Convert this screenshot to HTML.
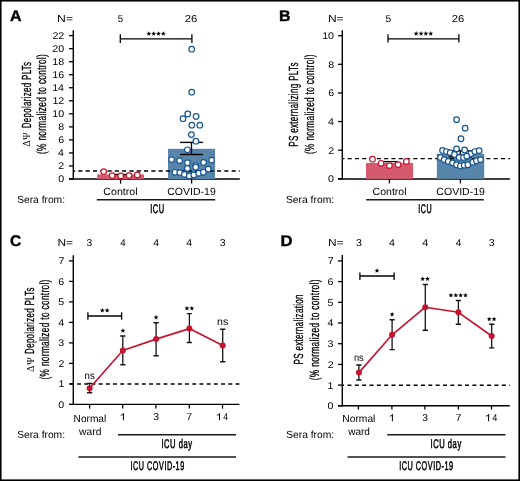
<!DOCTYPE html>
<html><head><meta charset="utf-8"><style>
html,body{margin:0;padding:0;background:#fff;}
svg{display:block;font-family:"Liberation Sans", sans-serif;will-change:transform;text-rendering:geometricPrecision;}
</style></head><body>
<svg width="520" height="481" viewBox="0 0 520 481">
<rect x="0" y="0" width="520" height="481" fill="#fff"/>
<rect x="0.75" y="0.75" width="518.45" height="479.45" fill="none" stroke="#000" stroke-width="1.6"/>
<text transform="translate(9.90,20.90) scale(1.0370,1)" font-size="15.4" font-weight="bold" fill="#000" stroke="#000" stroke-width="0.4">A</text>
<text transform="translate(57.10,21.50) scale(1.1816,1)" font-size="10.3" font-weight="normal" fill="#000">N=</text>
<text transform="translate(117.71,21.50) scale(0.9684,1)" font-size="10.0" font-weight="normal" fill="#000">5</text>
<text transform="translate(184.73,21.60) scale(1.1302,1)" font-size="10.0" font-weight="normal" fill="#000">26</text>
<line x1="73.30" y1="30.20" x2="73.30" y2="179.60" stroke="#000" stroke-width="1.4" />
<line x1="69.00" y1="179.00" x2="73.30" y2="179.00" stroke="#000" stroke-width="1.3" />
<text transform="translate(58.20,182.45) scale(1.0900,1)" font-size="9.75" fill="#000">0</text>
<line x1="69.00" y1="165.96" x2="73.30" y2="165.96" stroke="#000" stroke-width="1.3" />
<text transform="translate(58.33,169.41) scale(1.0900,1)" font-size="9.75" fill="#000">2</text>
<line x1="69.00" y1="152.93" x2="73.30" y2="152.93" stroke="#000" stroke-width="1.3" />
<text transform="translate(58.09,156.38) scale(1.0900,1)" font-size="9.75" fill="#000">4</text>
<line x1="69.00" y1="139.89" x2="73.30" y2="139.89" stroke="#000" stroke-width="1.3" />
<text transform="translate(58.25,143.34) scale(1.0900,1)" font-size="9.75" fill="#000">6</text>
<line x1="69.00" y1="126.86" x2="73.30" y2="126.86" stroke="#000" stroke-width="1.3" />
<text transform="translate(58.25,130.31) scale(1.0900,1)" font-size="9.75" fill="#000">8</text>
<line x1="69.00" y1="113.82" x2="73.30" y2="113.82" stroke="#000" stroke-width="1.3" />
<text transform="translate(52.30,117.27) scale(1.0900,1)" font-size="9.75" fill="#000">10</text>
<line x1="69.00" y1="100.78" x2="73.30" y2="100.78" stroke="#000" stroke-width="1.3" />
<text transform="translate(52.43,104.23) scale(1.0900,1)" font-size="9.75" fill="#000">12</text>
<line x1="69.00" y1="87.75" x2="73.30" y2="87.75" stroke="#000" stroke-width="1.3" />
<text transform="translate(52.20,91.20) scale(1.0900,1)" font-size="9.75" fill="#000">14</text>
<line x1="69.00" y1="74.71" x2="73.30" y2="74.71" stroke="#000" stroke-width="1.3" />
<text transform="translate(52.36,78.16) scale(1.0900,1)" font-size="9.75" fill="#000">16</text>
<line x1="69.00" y1="61.68" x2="73.30" y2="61.68" stroke="#000" stroke-width="1.3" />
<text transform="translate(52.36,65.13) scale(1.0900,1)" font-size="9.75" fill="#000">18</text>
<line x1="69.00" y1="48.64" x2="73.30" y2="48.64" stroke="#000" stroke-width="1.3" />
<text transform="translate(52.30,52.09) scale(1.0900,1)" font-size="9.75" fill="#000">20</text>
<line x1="69.00" y1="35.60" x2="73.30" y2="35.60" stroke="#000" stroke-width="1.3" />
<text transform="translate(52.43,39.05) scale(1.0900,1)" font-size="9.75" fill="#000">22</text>
<line x1="69.00" y1="179.00" x2="239.80" y2="179.00" stroke="#000" stroke-width="1.4" />
<line x1="120.60" y1="179.00" x2="120.60" y2="183.60" stroke="#000" stroke-width="1.3" />
<line x1="191.60" y1="179.00" x2="191.60" y2="183.60" stroke="#000" stroke-width="1.3" />
<rect x="97.1" y="174.4" width="46.9" height="4.60" fill="#d65a6e"/>
<rect x="168" y="148.8" width="47" height="30.20" fill="#5886aa"/>
<line x1="73.30" y1="171.05" x2="239.80" y2="171.05" stroke="#000" stroke-width="1.45" stroke-dasharray="4.15 3.15" stroke-dashoffset="2.3"/>
<line x1="109.00" y1="174.50" x2="132.00" y2="174.50" stroke="#000" stroke-width="1.3" />
<line x1="191.50" y1="142.40" x2="191.50" y2="154.50" stroke="#000" stroke-width="1.3" />
<line x1="180.10" y1="142.40" x2="203.10" y2="142.40" stroke="#000" stroke-width="1.4" />
<line x1="180.10" y1="154.50" x2="203.10" y2="154.50" stroke="#000" stroke-width="1.4" />
<circle cx="103.70" cy="171.60" r="2.8" fill="#fff" stroke="#c4132f" stroke-width="1.2"/>
<circle cx="112.20" cy="175.60" r="2.8" fill="#fff" stroke="#c4132f" stroke-width="1.2"/>
<circle cx="120.70" cy="175.90" r="2.8" fill="#fff" stroke="#c4132f" stroke-width="1.2"/>
<circle cx="129.00" cy="175.60" r="2.8" fill="#fff" stroke="#c4132f" stroke-width="1.2"/>
<circle cx="137.30" cy="174.90" r="2.8" fill="#fff" stroke="#c4132f" stroke-width="1.2"/>
<circle cx="191.70" cy="49.20" r="2.8" fill="#fff" stroke="#17548f" stroke-width="1.2"/>
<circle cx="191.70" cy="92.20" r="2.8" fill="#fff" stroke="#17548f" stroke-width="1.2"/>
<circle cx="187.70" cy="114.00" r="2.8" fill="#fff" stroke="#17548f" stroke-width="1.2"/>
<circle cx="183.00" cy="118.70" r="2.8" fill="#fff" stroke="#17548f" stroke-width="1.2"/>
<circle cx="196.10" cy="116.40" r="2.8" fill="#fff" stroke="#17548f" stroke-width="1.2"/>
<circle cx="191.80" cy="125.20" r="2.8" fill="#fff" stroke="#17548f" stroke-width="1.2"/>
<circle cx="199.80" cy="125.20" r="2.8" fill="#fff" stroke="#17548f" stroke-width="1.2"/>
<circle cx="191.40" cy="134.60" r="2.8" fill="#fff" stroke="#17548f" stroke-width="1.2"/>
<circle cx="195.90" cy="141.20" r="2.8" fill="#fff" stroke="#17548f" stroke-width="1.2"/>
<circle cx="187.40" cy="149.80" r="2.8" fill="#fff" stroke="#17548f" stroke-width="1.2"/>
<circle cx="171.60" cy="159.60" r="2.8" fill="#fff" stroke="#17548f" stroke-width="1.2"/>
<circle cx="179.60" cy="160.60" r="2.8" fill="#fff" stroke="#17548f" stroke-width="1.2"/>
<circle cx="187.40" cy="162.80" r="2.8" fill="#fff" stroke="#17548f" stroke-width="1.2"/>
<circle cx="203.60" cy="162.50" r="2.8" fill="#fff" stroke="#17548f" stroke-width="1.2"/>
<circle cx="211.60" cy="160.10" r="2.8" fill="#fff" stroke="#17548f" stroke-width="1.2"/>
<circle cx="187.40" cy="168.40" r="2.8" fill="#fff" stroke="#17548f" stroke-width="1.2"/>
<circle cx="195.70" cy="165.60" r="2.8" fill="#fff" stroke="#17548f" stroke-width="1.2"/>
<circle cx="195.70" cy="167.30" r="2.8" fill="#fff" stroke="#17548f" stroke-width="1.2"/>
<circle cx="175.00" cy="172.30" r="2.8" fill="#fff" stroke="#17548f" stroke-width="1.2"/>
<circle cx="179.80" cy="172.60" r="2.8" fill="#fff" stroke="#17548f" stroke-width="1.2"/>
<circle cx="184.40" cy="174.40" r="2.8" fill="#fff" stroke="#17548f" stroke-width="1.2"/>
<circle cx="189.30" cy="176.00" r="2.8" fill="#fff" stroke="#17548f" stroke-width="1.2"/>
<circle cx="193.80" cy="174.90" r="2.8" fill="#fff" stroke="#17548f" stroke-width="1.2"/>
<circle cx="198.70" cy="173.30" r="2.8" fill="#fff" stroke="#17548f" stroke-width="1.2"/>
<circle cx="203.40" cy="172.30" r="2.8" fill="#fff" stroke="#17548f" stroke-width="1.2"/>
<circle cx="208.20" cy="169.10" r="2.8" fill="#fff" stroke="#17548f" stroke-width="1.2"/>
<line x1="120.30" y1="38.90" x2="191.90" y2="38.90" stroke="#000" stroke-width="1.3" />
<line x1="120.30" y1="34.20" x2="120.30" y2="43.00" stroke="#000" stroke-width="1.3" />
<line x1="191.90" y1="34.20" x2="191.90" y2="43.00" stroke="#000" stroke-width="1.3" />
<polygon points="148.82,31.15 149.47,32.81 151.25,32.91 149.87,34.04 150.32,35.76 148.82,34.80 147.33,35.76 147.78,34.04 146.40,32.91 148.18,32.81" fill="#000"/>
<polygon points="153.67,31.15 154.32,32.81 156.10,32.91 154.72,34.04 155.17,35.76 153.67,34.80 152.18,35.76 152.63,34.04 151.25,32.91 153.03,32.81" fill="#000"/>
<polygon points="158.52,31.15 159.17,32.81 160.95,32.91 159.57,34.04 160.02,35.76 158.52,34.80 157.03,35.76 157.48,34.04 156.10,32.91 157.88,32.81" fill="#000"/>
<polygon points="163.38,31.15 164.02,32.81 165.80,32.91 164.42,34.04 164.87,35.76 163.38,34.80 161.88,35.76 162.33,34.04 160.95,32.91 162.73,32.81" fill="#000"/>
<text transform="translate(17.14,202.80) scale(0.9960,1)" font-size="10.3" font-weight="normal" fill="#000">Sera from:</text>
<text transform="translate(103.37,195.40) scale(1.0295,1)" font-size="10.3" font-weight="normal" fill="#000">Control</text>
<text transform="translate(167.27,195.40) scale(1.0208,1)" font-size="10.3" font-weight="normal" fill="#000">COVID-19</text>
<line x1="96.80" y1="199.75" x2="215.20" y2="199.75" stroke="#1a1a1a" stroke-width="1.5" />
<text transform="translate(150.23,212.80) scale(0.5969,1)" font-size="12.6" font-weight="normal" fill="#000" stroke="#000" stroke-width="0.55" letter-spacing="0.9">ICU</text>
<text transform="translate(30.40,146.56) rotate(-90) scale(0.9119,1)" font-size="10.6" fill="#000" font-family="Liberation Serif, serif" letter-spacing="0.6">ΔΨ</text>
<text transform="translate(30.50,128.30) rotate(-90) scale(0.6040,1)" font-size="13.2" fill="#000" stroke="#000" stroke-width="0.28" letter-spacing="0.5">Depolarized PLTs</text>
<text transform="translate(46.00,154.01) rotate(-90) scale(0.6292,1)" font-size="13.2" fill="#000" stroke="#000" stroke-width="0.28" letter-spacing="0.5">(% normalized to control)</text>
<text transform="translate(279.03,21.00) scale(1.0326,1)" font-size="15.4" font-weight="bold" fill="#000" stroke="#000" stroke-width="0.4">B</text>
<text transform="translate(327.91,21.50) scale(1.1650,1)" font-size="10.3" font-weight="normal" fill="#000">N=</text>
<text transform="translate(385.39,21.50) scale(1.0316,1)" font-size="10.0" font-weight="normal" fill="#000">5</text>
<text transform="translate(451.84,21.60) scale(1.1204,1)" font-size="10.0" font-weight="normal" fill="#000">26</text>
<line x1="342.30" y1="30.20" x2="342.30" y2="179.40" stroke="#000" stroke-width="1.4" />
<line x1="338.00" y1="178.80" x2="342.30" y2="178.80" stroke="#000" stroke-width="1.3" />
<text transform="translate(328.10,182.25) scale(1.0900,1)" font-size="9.75" fill="#000">0</text>
<line x1="338.00" y1="150.18" x2="342.30" y2="150.18" stroke="#000" stroke-width="1.3" />
<text transform="translate(328.23,153.63) scale(1.0900,1)" font-size="9.75" fill="#000">2</text>
<line x1="338.00" y1="121.56" x2="342.30" y2="121.56" stroke="#000" stroke-width="1.3" />
<text transform="translate(327.99,125.01) scale(1.0900,1)" font-size="9.75" fill="#000">4</text>
<line x1="338.00" y1="92.94" x2="342.30" y2="92.94" stroke="#000" stroke-width="1.3" />
<text transform="translate(328.15,96.39) scale(1.0900,1)" font-size="9.75" fill="#000">6</text>
<line x1="338.00" y1="64.32" x2="342.30" y2="64.32" stroke="#000" stroke-width="1.3" />
<text transform="translate(328.15,67.77) scale(1.0900,1)" font-size="9.75" fill="#000">8</text>
<line x1="338.00" y1="35.70" x2="342.30" y2="35.70" stroke="#000" stroke-width="1.3" />
<text transform="translate(322.20,39.15) scale(1.0900,1)" font-size="9.75" fill="#000">10</text>
<line x1="338.00" y1="179.00" x2="509.90" y2="179.00" stroke="#000" stroke-width="1.5" />
<line x1="389.40" y1="178.80" x2="389.40" y2="183.40" stroke="#000" stroke-width="1.3" />
<line x1="460.40" y1="178.80" x2="460.40" y2="183.40" stroke="#000" stroke-width="1.3" />
<rect x="366" y="163" width="47.1" height="15.80" fill="#d65a6e"/>
<rect x="436.8" y="153.8" width="47.4" height="25.00" fill="#5886aa"/>
<line x1="342.30" y1="158.60" x2="509.90" y2="158.60" stroke="#000" stroke-width="1.45" stroke-dasharray="4.15 3.15" stroke-dashoffset="2.0"/>
<line x1="381.00" y1="161.60" x2="398.00" y2="161.60" stroke="#000" stroke-width="1.3" />
<line x1="460.20" y1="150.80" x2="460.20" y2="156.80" stroke="#000" stroke-width="1.3" />
<line x1="448.70" y1="150.80" x2="471.70" y2="150.80" stroke="#000" stroke-width="1.3" />
<line x1="448.70" y1="156.80" x2="471.70" y2="156.80" stroke="#000" stroke-width="1.3" />
<circle cx="372.50" cy="159.20" r="2.8" fill="#fff" stroke="#c4132f" stroke-width="1.2"/>
<circle cx="381.00" cy="163.30" r="2.8" fill="#fff" stroke="#c4132f" stroke-width="1.2"/>
<circle cx="389.40" cy="165.60" r="2.8" fill="#fff" stroke="#c4132f" stroke-width="1.2"/>
<circle cx="398.10" cy="164.60" r="2.8" fill="#fff" stroke="#c4132f" stroke-width="1.2"/>
<circle cx="406.40" cy="161.50" r="2.8" fill="#fff" stroke="#c4132f" stroke-width="1.2"/>
<circle cx="456.55" cy="119.65" r="2.8" fill="#fff" stroke="#17548f" stroke-width="1.2"/>
<circle cx="465.15" cy="128.15" r="2.8" fill="#fff" stroke="#17548f" stroke-width="1.2"/>
<circle cx="460.95" cy="138.75" r="2.8" fill="#fff" stroke="#17548f" stroke-width="1.2"/>
<circle cx="442.55" cy="150.45" r="2.8" fill="#fff" stroke="#17548f" stroke-width="1.2"/>
<circle cx="446.35" cy="151.55" r="2.8" fill="#fff" stroke="#17548f" stroke-width="1.2"/>
<circle cx="450.15" cy="152.65" r="2.8" fill="#fff" stroke="#17548f" stroke-width="1.2"/>
<circle cx="454.45" cy="154.45" r="2.8" fill="#fff" stroke="#17548f" stroke-width="1.2"/>
<circle cx="456.55" cy="148.85" r="2.8" fill="#fff" stroke="#17548f" stroke-width="1.2"/>
<circle cx="464.65" cy="149.95" r="2.8" fill="#fff" stroke="#17548f" stroke-width="1.2"/>
<circle cx="470.85" cy="153.75" r="2.8" fill="#fff" stroke="#17548f" stroke-width="1.2"/>
<circle cx="474.85" cy="151.55" r="2.8" fill="#fff" stroke="#17548f" stroke-width="1.2"/>
<circle cx="479.15" cy="150.65" r="2.8" fill="#fff" stroke="#17548f" stroke-width="1.2"/>
<circle cx="459.25" cy="157.45" r="2.8" fill="#fff" stroke="#17548f" stroke-width="1.2"/>
<circle cx="463.55" cy="157.45" r="2.8" fill="#fff" stroke="#17548f" stroke-width="1.2"/>
<circle cx="466.75" cy="156.15" r="2.8" fill="#fff" stroke="#17548f" stroke-width="1.2"/>
<circle cx="440.45" cy="157.45" r="2.8" fill="#fff" stroke="#17548f" stroke-width="1.2"/>
<circle cx="444.15" cy="159.65" r="2.8" fill="#fff" stroke="#17548f" stroke-width="1.2"/>
<circle cx="448.25" cy="161.55" r="2.8" fill="#fff" stroke="#17548f" stroke-width="1.2"/>
<circle cx="452.55" cy="162.85" r="2.8" fill="#fff" stroke="#17548f" stroke-width="1.2"/>
<circle cx="456.55" cy="164.75" r="2.8" fill="#fff" stroke="#17548f" stroke-width="1.2"/>
<circle cx="460.35" cy="166.05" r="2.8" fill="#fff" stroke="#17548f" stroke-width="1.2"/>
<circle cx="464.15" cy="165.25" r="2.8" fill="#fff" stroke="#17548f" stroke-width="1.2"/>
<circle cx="467.85" cy="164.75" r="2.8" fill="#fff" stroke="#17548f" stroke-width="1.2"/>
<circle cx="472.75" cy="162.25" r="2.8" fill="#fff" stroke="#17548f" stroke-width="1.2"/>
<circle cx="476.45" cy="160.75" r="2.8" fill="#fff" stroke="#17548f" stroke-width="1.2"/>
<circle cx="480.55" cy="159.65" r="2.8" fill="#fff" stroke="#17548f" stroke-width="1.2"/>
<line x1="388.00" y1="38.90" x2="458.90" y2="38.90" stroke="#000" stroke-width="1.3" />
<line x1="388.00" y1="34.20" x2="388.00" y2="42.60" stroke="#000" stroke-width="1.3" />
<line x1="458.90" y1="34.20" x2="458.90" y2="42.60" stroke="#000" stroke-width="1.3" />
<polygon points="416.18,31.05 416.82,32.71 418.60,32.81 417.22,33.94 417.67,35.66 416.18,34.70 414.68,35.66 415.13,33.94 413.75,32.81 415.53,32.71" fill="#000"/>
<polygon points="421.03,31.05 421.67,32.71 423.45,32.81 422.07,33.94 422.52,35.66 421.03,34.70 419.53,35.66 419.98,33.94 418.60,32.81 420.38,32.71" fill="#000"/>
<polygon points="425.88,31.05 426.52,32.71 428.30,32.81 426.92,33.94 427.37,35.66 425.88,34.70 424.38,35.66 424.83,33.94 423.45,32.81 425.23,32.71" fill="#000"/>
<polygon points="430.73,31.05 431.37,32.71 433.15,32.81 431.77,33.94 432.22,35.66 430.73,34.70 429.23,35.66 429.68,33.94 428.30,32.81 430.08,32.71" fill="#000"/>
<text transform="translate(285.94,202.80) scale(1.0025,1)" font-size="10.3" font-weight="normal" fill="#000">Sera from:</text>
<text transform="translate(372.62,195.40) scale(1.0216,1)" font-size="10.3" font-weight="normal" fill="#000">Control</text>
<text transform="translate(436.37,195.40) scale(1.0230,1)" font-size="10.3" font-weight="normal" fill="#000">COVID-19</text>
<line x1="366.20" y1="199.75" x2="483.80" y2="199.75" stroke="#1a1a1a" stroke-width="1.5" />
<text transform="translate(418.26,212.80) scale(0.5688,1)" font-size="12.6" font-weight="normal" fill="#000" stroke="#000" stroke-width="0.55" letter-spacing="0.9">ICU</text>
<text transform="translate(297.60,146.81) rotate(-90) scale(0.6137,1)" font-size="13.2" fill="#000" stroke="#000" stroke-width="0.28" letter-spacing="0.5">PS externalizing PLTs</text>
<text transform="translate(313.70,153.96) rotate(-90) scale(0.6270,1)" font-size="13.2" fill="#000" stroke="#000" stroke-width="0.28" letter-spacing="0.5">(% normalized to control)</text>
<text transform="translate(9.98,246.40) scale(1.0112,1)" font-size="15.4" font-weight="bold" fill="#000" stroke="#000" stroke-width="0.4">C</text>
<text transform="translate(57.42,246.40) scale(1.1568,1)" font-size="10.3" font-weight="normal" fill="#000">N=</text>
<text transform="translate(86.61,246.40) scale(1.0316,1)" font-size="10.0" font-weight="normal" fill="#000">3</text>
<text transform="translate(120.18,246.40) scale(0.9703,1)" font-size="10.0" font-weight="normal" fill="#000">4</text>
<text transform="translate(153.26,246.40) scale(1.0495,1)" font-size="10.0" font-weight="normal" fill="#000">4</text>
<text transform="translate(186.36,246.40) scale(1.0495,1)" font-size="10.0" font-weight="normal" fill="#000">4</text>
<text transform="translate(219.81,246.40) scale(1.0526,1)" font-size="10.0" font-weight="normal" fill="#000">3</text>
<line x1="73.30" y1="255.20" x2="73.30" y2="405.00" stroke="#000" stroke-width="1.4" />
<line x1="69.00" y1="404.40" x2="73.30" y2="404.40" stroke="#000" stroke-width="1.3" />
<text transform="translate(58.30,407.85) scale(1.0900,1)" font-size="9.75" fill="#000">0</text>
<line x1="69.00" y1="383.90" x2="73.30" y2="383.90" stroke="#000" stroke-width="1.3" />
<text transform="translate(58.41,387.35) scale(1.0900,1)" font-size="9.75" fill="#000">1</text>
<line x1="69.00" y1="363.40" x2="73.30" y2="363.40" stroke="#000" stroke-width="1.3" />
<text transform="translate(58.43,366.85) scale(1.0900,1)" font-size="9.75" fill="#000">2</text>
<line x1="69.00" y1="342.90" x2="73.30" y2="342.90" stroke="#000" stroke-width="1.3" />
<text transform="translate(58.35,346.35) scale(1.0900,1)" font-size="9.75" fill="#000">3</text>
<line x1="69.00" y1="322.40" x2="73.30" y2="322.40" stroke="#000" stroke-width="1.3" />
<text transform="translate(58.19,325.85) scale(1.0900,1)" font-size="9.75" fill="#000">4</text>
<line x1="69.00" y1="301.90" x2="73.30" y2="301.90" stroke="#000" stroke-width="1.3" />
<text transform="translate(58.33,305.35) scale(1.0900,1)" font-size="9.75" fill="#000">5</text>
<line x1="69.00" y1="281.40" x2="73.30" y2="281.40" stroke="#000" stroke-width="1.3" />
<text transform="translate(58.35,284.85) scale(1.0900,1)" font-size="9.75" fill="#000">6</text>
<line x1="69.00" y1="260.90" x2="73.30" y2="260.90" stroke="#000" stroke-width="1.3" />
<text transform="translate(58.43,264.35) scale(1.0900,1)" font-size="9.75" fill="#000">7</text>
<line x1="69.00" y1="404.40" x2="239.40" y2="404.40" stroke="#000" stroke-width="1.4" />
<line x1="89.60" y1="404.40" x2="89.60" y2="408.60" stroke="#000" stroke-width="1.3" />
<line x1="122.70" y1="404.40" x2="122.70" y2="408.60" stroke="#000" stroke-width="1.3" />
<line x1="155.90" y1="404.40" x2="155.90" y2="408.60" stroke="#000" stroke-width="1.3" />
<line x1="189.30" y1="404.40" x2="189.30" y2="408.60" stroke="#000" stroke-width="1.3" />
<line x1="222.50" y1="404.40" x2="222.50" y2="408.60" stroke="#000" stroke-width="1.3" />
<line x1="70.00" y1="383.90" x2="239.50" y2="383.90" stroke="#000" stroke-width="1.45" stroke-dasharray="3.9 3.3" stroke-dashoffset="0.1"/>
<line x1="89.60" y1="383.40" x2="89.60" y2="392.70" stroke="#141414" stroke-width="1.3" />
<line x1="87.50" y1="383.40" x2="91.70" y2="383.40" stroke="#141414" stroke-width="1.4" stroke-linecap="round"/>
<line x1="87.50" y1="392.70" x2="91.70" y2="392.70" stroke="#141414" stroke-width="1.4" stroke-linecap="round"/>
<line x1="122.80" y1="336.00" x2="122.80" y2="364.80" stroke="#141414" stroke-width="1.3" />
<line x1="120.70" y1="336.00" x2="124.90" y2="336.00" stroke="#141414" stroke-width="1.4" stroke-linecap="round"/>
<line x1="120.70" y1="364.80" x2="124.90" y2="364.80" stroke="#141414" stroke-width="1.4" stroke-linecap="round"/>
<line x1="156.10" y1="322.70" x2="156.10" y2="355.70" stroke="#141414" stroke-width="1.3" />
<line x1="154.00" y1="322.70" x2="158.20" y2="322.70" stroke="#141414" stroke-width="1.4" stroke-linecap="round"/>
<line x1="154.00" y1="355.70" x2="158.20" y2="355.70" stroke="#141414" stroke-width="1.4" stroke-linecap="round"/>
<line x1="189.40" y1="313.60" x2="189.40" y2="342.50" stroke="#141414" stroke-width="1.3" />
<line x1="187.30" y1="313.60" x2="191.50" y2="313.60" stroke="#141414" stroke-width="1.4" stroke-linecap="round"/>
<line x1="187.30" y1="342.50" x2="191.50" y2="342.50" stroke="#141414" stroke-width="1.4" stroke-linecap="round"/>
<line x1="222.70" y1="329.30" x2="222.70" y2="361.80" stroke="#141414" stroke-width="1.3" />
<line x1="220.60" y1="329.30" x2="224.80" y2="329.30" stroke="#141414" stroke-width="1.4" stroke-linecap="round"/>
<line x1="220.60" y1="361.80" x2="224.80" y2="361.80" stroke="#141414" stroke-width="1.4" stroke-linecap="round"/>
<polyline points="89.6,388.3 122.8,350.5 156.1,339.1 189.4,328.6 222.7,345.5" fill="none" stroke="#c4132f" stroke-width="1.65" stroke-linejoin="round"/>
<circle cx="89.6" cy="388.3" r="3.0" fill="#c4132f"/>
<circle cx="122.8" cy="350.5" r="3.0" fill="#c4132f"/>
<circle cx="156.1" cy="339.1" r="3.0" fill="#c4132f"/>
<circle cx="189.4" cy="328.6" r="3.0" fill="#c4132f"/>
<circle cx="222.7" cy="345.5" r="3.0" fill="#c4132f"/>
<line x1="87.90" y1="315.90" x2="121.60" y2="315.90" stroke="#000" stroke-width="1.5" />
<line x1="87.90" y1="312.30" x2="87.90" y2="319.80" stroke="#000" stroke-width="1.3" />
<line x1="121.60" y1="312.30" x2="121.60" y2="319.80" stroke="#000" stroke-width="1.3" />
<polygon points="102.33,307.95 102.97,309.61 104.75,309.71 103.37,310.84 103.82,312.56 102.33,311.60 100.83,312.56 101.28,310.84 99.90,309.71 101.68,309.61" fill="#000"/>
<polygon points="107.17,307.95 107.82,309.61 109.60,309.71 108.22,310.84 108.67,312.56 107.17,311.60 105.68,312.56 106.13,310.84 104.75,309.71 106.53,309.61" fill="#000"/>
<text transform="translate(84.55,379.00) scale(0.9377,1)" font-size="10.3" font-weight="normal" fill="#000">ns</text>
<polygon points="122.90,328.15 123.54,329.81 125.33,329.91 123.94,331.04 124.40,332.76 122.90,331.80 121.40,332.76 121.86,331.04 120.47,329.91 122.26,329.81" fill="#000"/>
<polygon points="156.10,314.85 156.74,316.51 158.53,316.61 157.14,317.74 157.60,319.46 156.10,318.50 154.60,319.46 155.06,317.74 153.67,316.61 155.46,316.51" fill="#000"/>
<polygon points="186.97,305.85 187.62,307.51 189.40,307.61 188.02,308.74 188.47,310.46 186.97,309.50 185.48,310.46 185.93,308.74 184.55,307.61 186.33,307.51" fill="#000"/>
<polygon points="191.82,305.85 192.47,307.51 194.25,307.61 192.87,308.74 193.32,310.46 191.82,309.50 190.33,310.46 190.78,308.74 189.40,307.61 191.18,307.51" fill="#000"/>
<text transform="translate(216.98,325.40) scale(1.0295,1)" font-size="10.3" font-weight="normal" fill="#000">ns</text>
<text transform="translate(73.56,421.50) scale(0.9859,1)" font-size="10.3" font-weight="normal" fill="#000">Normal</text>
<text transform="translate(79.10,434.70) scale(0.9962,1)" font-size="10.3" font-weight="normal" fill="#000">ward</text>
<text transform="translate(153.21,420.40) scale(1.0526,1)" font-size="10.0" font-weight="normal" fill="#000">3</text>
<text transform="translate(186.34,420.40) scale(1.0608,1)" font-size="10.0" font-weight="normal" fill="#000">7</text>
<text transform="translate(223.30,420.40) scale(0.8713,1)" font-size="10.0" font-weight="normal" fill="#000">4</text>
<path d="M219.50,420.30 L219.50,413.60 M219.80,413.40 C219.20,414.50 218.30,415.00 216.90,415.20" fill="none" stroke="#000" stroke-width="1.0"/>
<path d="M123.40,420.30 L123.40,413.60 M123.70,413.40 C123.10,414.50 122.20,415.00 120.80,415.20" fill="none" stroke="#000" stroke-width="1.0"/>
<text transform="translate(17.14,437.90) scale(0.9960,1)" font-size="10.3" font-weight="normal" fill="#000">Sera from:</text>
<line x1="118.00" y1="434.70" x2="236.00" y2="434.70" stroke="#1a1a1a" stroke-width="1.5" />
<text transform="translate(161.42,448.00) scale(0.6044,1)" font-size="12.6" font-weight="normal" fill="#000" stroke="#000" stroke-width="0.55" letter-spacing="0.9">ICU day</text>
<line x1="78.40" y1="457.10" x2="236.00" y2="457.10" stroke="#1a1a1a" stroke-width="1.5" />
<text transform="translate(130.55,470.00) scale(0.5755,1)" font-size="12.6" font-weight="normal" fill="#000" stroke="#000" stroke-width="0.55" letter-spacing="0.9">ICU COVID-19</text>
<text transform="translate(33.60,371.88) rotate(-90) scale(0.9524,1)" font-size="10.6" fill="#000" font-family="Liberation Serif, serif" letter-spacing="0.6">ΔΨ</text>
<text transform="translate(33.80,353.90) rotate(-90) scale(0.6040,1)" font-size="13.2" fill="#000" stroke="#000" stroke-width="0.28" letter-spacing="0.5">Depolarized PLTs</text>
<text transform="translate(49.20,379.46) rotate(-90) scale(0.6295,1)" font-size="13.2" fill="#000" stroke="#000" stroke-width="0.28" letter-spacing="0.5">(% normalized to control)</text>
<text transform="translate(280.48,246.30) scale(1.0814,1)" font-size="15.4" font-weight="bold" fill="#000" stroke="#000" stroke-width="0.4">D</text>
<text transform="translate(328.12,246.40) scale(1.1568,1)" font-size="10.3" font-weight="normal" fill="#000">N=</text>
<text transform="translate(356.00,246.40) scale(1.0737,1)" font-size="10.0" font-weight="normal" fill="#000">3</text>
<text transform="translate(388.96,246.40) scale(1.0693,1)" font-size="10.0" font-weight="normal" fill="#000">4</text>
<text transform="translate(422.26,246.40) scale(1.0693,1)" font-size="10.0" font-weight="normal" fill="#000">4</text>
<text transform="translate(455.77,246.40) scale(1.0099,1)" font-size="10.0" font-weight="normal" fill="#000">4</text>
<text transform="translate(488.81,246.40) scale(1.0526,1)" font-size="10.0" font-weight="normal" fill="#000">3</text>
<line x1="342.30" y1="255.00" x2="342.30" y2="406.40" stroke="#000" stroke-width="1.4" />
<line x1="338.00" y1="405.80" x2="342.30" y2="405.80" stroke="#000" stroke-width="1.3" />
<text transform="translate(327.50,409.25) scale(1.0900,1)" font-size="9.75" fill="#000">0</text>
<line x1="338.00" y1="385.10" x2="342.30" y2="385.10" stroke="#000" stroke-width="1.3" />
<text transform="translate(327.61,388.55) scale(1.0900,1)" font-size="9.75" fill="#000">1</text>
<line x1="338.00" y1="364.40" x2="342.30" y2="364.40" stroke="#000" stroke-width="1.3" />
<text transform="translate(327.63,367.85) scale(1.0900,1)" font-size="9.75" fill="#000">2</text>
<line x1="338.00" y1="343.70" x2="342.30" y2="343.70" stroke="#000" stroke-width="1.3" />
<text transform="translate(327.55,347.15) scale(1.0900,1)" font-size="9.75" fill="#000">3</text>
<line x1="338.00" y1="323.00" x2="342.30" y2="323.00" stroke="#000" stroke-width="1.3" />
<text transform="translate(327.39,326.45) scale(1.0900,1)" font-size="9.75" fill="#000">4</text>
<line x1="338.00" y1="302.30" x2="342.30" y2="302.30" stroke="#000" stroke-width="1.3" />
<text transform="translate(327.53,305.75) scale(1.0900,1)" font-size="9.75" fill="#000">5</text>
<line x1="338.00" y1="281.60" x2="342.30" y2="281.60" stroke="#000" stroke-width="1.3" />
<text transform="translate(327.55,285.05) scale(1.0900,1)" font-size="9.75" fill="#000">6</text>
<line x1="338.00" y1="260.90" x2="342.30" y2="260.90" stroke="#000" stroke-width="1.3" />
<text transform="translate(327.63,264.35) scale(1.0900,1)" font-size="9.75" fill="#000">7</text>
<line x1="338.00" y1="405.80" x2="509.80" y2="405.80" stroke="#000" stroke-width="1.4" />
<line x1="358.40" y1="405.80" x2="358.40" y2="409.60" stroke="#000" stroke-width="1.3" />
<line x1="391.90" y1="405.80" x2="391.90" y2="409.60" stroke="#000" stroke-width="1.3" />
<line x1="424.90" y1="405.80" x2="424.90" y2="409.60" stroke="#000" stroke-width="1.3" />
<line x1="458.40" y1="405.80" x2="458.40" y2="409.60" stroke="#000" stroke-width="1.3" />
<line x1="491.50" y1="405.80" x2="491.50" y2="409.60" stroke="#000" stroke-width="1.3" />
<line x1="342.30" y1="385.15" x2="509.80" y2="385.15" stroke="#000" stroke-width="1.45" stroke-dasharray="4.0 3.35" stroke-dashoffset="2.2"/>
<line x1="358.90" y1="365.00" x2="358.90" y2="380.00" stroke="#141414" stroke-width="1.3" />
<line x1="356.80" y1="365.00" x2="361.00" y2="365.00" stroke="#141414" stroke-width="1.4" stroke-linecap="round"/>
<line x1="356.80" y1="380.00" x2="361.00" y2="380.00" stroke="#141414" stroke-width="1.4" stroke-linecap="round"/>
<line x1="392.10" y1="319.70" x2="392.10" y2="349.60" stroke="#141414" stroke-width="1.3" />
<line x1="390.00" y1="319.70" x2="394.20" y2="319.70" stroke="#141414" stroke-width="1.4" stroke-linecap="round"/>
<line x1="390.00" y1="349.60" x2="394.20" y2="349.60" stroke="#141414" stroke-width="1.4" stroke-linecap="round"/>
<line x1="425.30" y1="284.50" x2="425.30" y2="330.20" stroke="#141414" stroke-width="1.3" />
<line x1="423.20" y1="284.50" x2="427.40" y2="284.50" stroke="#141414" stroke-width="1.4" stroke-linecap="round"/>
<line x1="423.20" y1="330.20" x2="427.40" y2="330.20" stroke="#141414" stroke-width="1.4" stroke-linecap="round"/>
<line x1="458.40" y1="300.50" x2="458.40" y2="324.20" stroke="#141414" stroke-width="1.3" />
<line x1="456.30" y1="300.50" x2="460.50" y2="300.50" stroke="#141414" stroke-width="1.4" stroke-linecap="round"/>
<line x1="456.30" y1="324.20" x2="460.50" y2="324.20" stroke="#141414" stroke-width="1.4" stroke-linecap="round"/>
<line x1="491.70" y1="324.30" x2="491.70" y2="347.90" stroke="#141414" stroke-width="1.3" />
<line x1="489.60" y1="324.30" x2="493.80" y2="324.30" stroke="#141414" stroke-width="1.4" stroke-linecap="round"/>
<line x1="489.60" y1="347.90" x2="493.80" y2="347.90" stroke="#141414" stroke-width="1.4" stroke-linecap="round"/>
<polyline points="358.9,372.6 392.1,334.8 425.3,307.2 458.4,312.3 491.7,336.0" fill="none" stroke="#c4132f" stroke-width="1.65" stroke-linejoin="round"/>
<circle cx="358.9" cy="372.6" r="3.0" fill="#c4132f"/>
<circle cx="392.1" cy="334.8" r="3.0" fill="#c4132f"/>
<circle cx="425.3" cy="307.2" r="3.0" fill="#c4132f"/>
<circle cx="458.4" cy="312.3" r="3.0" fill="#c4132f"/>
<circle cx="491.7" cy="336.0" r="3.0" fill="#c4132f"/>
<line x1="359.90" y1="276.00" x2="394.10" y2="276.00" stroke="#000" stroke-width="1.3" />
<line x1="359.90" y1="272.40" x2="359.90" y2="279.90" stroke="#000" stroke-width="1.3" />
<line x1="394.10" y1="272.40" x2="394.10" y2="279.90" stroke="#000" stroke-width="1.3" />
<polygon points="377.00,268.15 377.64,269.81 379.43,269.91 378.04,271.04 378.50,272.76 377.00,271.80 375.50,272.76 375.96,271.04 374.57,269.91 376.36,269.81" fill="#000"/>
<text transform="translate(353.98,360.70) scale(0.8970,1)" font-size="10.3" font-weight="normal" fill="#000">ns</text>
<polygon points="392.10,311.85 392.74,313.51 394.53,313.61 393.14,314.74 393.60,316.46 392.10,315.50 390.60,316.46 391.06,314.74 389.67,313.61 391.46,313.51" fill="#000"/>
<polygon points="422.68,276.35 423.32,278.01 425.10,278.11 423.72,279.24 424.17,280.96 422.68,280.00 421.18,280.96 421.63,279.24 420.25,278.11 422.03,278.01" fill="#000"/>
<polygon points="427.53,276.35 428.17,278.01 429.95,278.11 428.57,279.24 429.02,280.96 427.53,280.00 426.03,280.96 426.48,279.24 425.10,278.11 426.88,278.01" fill="#000"/>
<polygon points="450.93,292.75 451.57,294.41 453.35,294.51 451.97,295.64 452.42,297.36 450.93,296.40 449.43,297.36 449.88,295.64 448.50,294.51 450.28,294.41" fill="#000"/>
<polygon points="455.78,292.75 456.42,294.41 458.20,294.51 456.82,295.64 457.27,297.36 455.78,296.40 454.28,297.36 454.73,295.64 453.35,294.51 455.13,294.41" fill="#000"/>
<polygon points="460.62,292.75 461.27,294.41 463.05,294.51 461.67,295.64 462.12,297.36 460.62,296.40 459.13,297.36 459.58,295.64 458.20,294.51 459.98,294.41" fill="#000"/>
<polygon points="465.48,292.75 466.12,294.41 467.90,294.51 466.52,295.64 466.97,297.36 465.48,296.40 463.98,297.36 464.43,295.64 463.05,294.51 464.83,294.41" fill="#000"/>
<polygon points="489.22,316.55 489.87,318.21 491.65,318.31 490.27,319.44 490.72,321.16 489.22,320.20 487.73,321.16 488.18,319.44 486.80,318.31 488.58,318.21" fill="#000"/>
<polygon points="494.07,316.55 494.72,318.21 496.50,318.31 495.12,319.44 495.57,321.16 494.07,320.20 492.58,321.16 493.03,319.44 491.65,318.31 493.43,318.21" fill="#000"/>
<text transform="translate(342.35,421.70) scale(0.9954,1)" font-size="10.3" font-weight="normal" fill="#000">Normal</text>
<text transform="translate(348.20,434.70) scale(0.9732,1)" font-size="10.3" font-weight="normal" fill="#000">ward</text>
<text transform="translate(422.31,421.20) scale(1.0316,1)" font-size="10.0" font-weight="normal" fill="#000">3</text>
<text transform="translate(455.53,421.20) scale(1.0829,1)" font-size="10.0" font-weight="normal" fill="#000">7</text>
<text transform="translate(492.20,421.20) scale(0.9109,1)" font-size="10.0" font-weight="normal" fill="#000">4</text>
<path d="M488.60,421.20 L488.60,414.50 M488.90,414.30 C488.30,415.40 487.40,415.90 486.00,416.10" fill="none" stroke="#000" stroke-width="1.0"/>
<path d="M392.40,421.20 L392.40,414.50 M392.70,414.30 C392.10,415.40 391.20,415.90 389.80,416.10" fill="none" stroke="#000" stroke-width="1.0"/>
<text transform="translate(286.24,438.20) scale(0.9960,1)" font-size="10.3" font-weight="normal" fill="#000">Sera from:</text>
<line x1="387.30" y1="434.80" x2="505.50" y2="434.80" stroke="#1a1a1a" stroke-width="1.5" />
<text transform="translate(430.52,448.20) scale(0.6024,1)" font-size="12.6" font-weight="normal" fill="#000" stroke="#000" stroke-width="0.55" letter-spacing="0.9">ICU day</text>
<line x1="347.60" y1="456.90" x2="505.50" y2="456.90" stroke="#1a1a1a" stroke-width="1.5" />
<text transform="translate(399.15,470.00) scale(0.5788,1)" font-size="12.6" font-weight="normal" fill="#000" stroke="#000" stroke-width="0.55" letter-spacing="0.9">ICU COVID-19</text>
<text transform="translate(302.80,364.40) rotate(-90) scale(0.6090,1)" font-size="13.2" fill="#000" stroke="#000" stroke-width="0.28" letter-spacing="0.5">PS externalization</text>
<text transform="translate(318.80,380.37) rotate(-90) scale(0.6365,1)" font-size="13.2" fill="#000" stroke="#000" stroke-width="0.28" letter-spacing="0.5">(% normalized to control)</text>
</svg>
</body></html>
